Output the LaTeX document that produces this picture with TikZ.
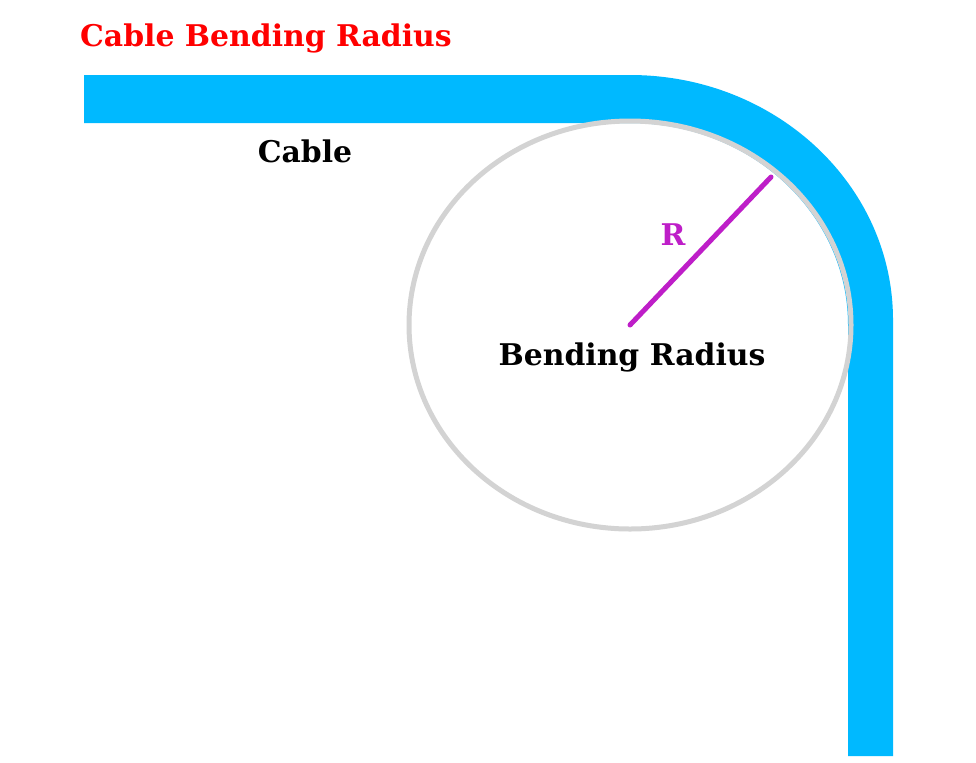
\documentclass[tikz,border=0pt]{standalone}
\usepackage{fontspec}
\setmainfont{DejaVu Serif}
\definecolor{cablecol}{RGB}{0,185,255}
\definecolor{ringcol}{RGB}{211,211,211}
\definecolor{radcol}{RGB}{190,30,200}
\tikzset{
  lbl/.style={font=\bfseries\fontsize{17}{20}\selectfont,inner sep=0pt,anchor=center},
}
\begin{document}
\begin{tikzpicture}[x=0.02cm,y=-0.02cm]
\useasboundingbox (0,0) rectangle (976,762);
\fill[white] (0,0) rectangle (976,762);
\fill[cablecol] (84,75) -- (630,75) arc[start angle=90,end angle=0,x radius=263,y radius=-245] -- (893,756) -- (848,756) -- (848,325)
  arc[start angle=0,end angle=90,x radius=218,y radius=-202] -- (84,123) -- cycle;
\draw[ringcol,line width=0.1cm] (630,325) ellipse[x radius=221,y radius=204];
\coordinate (c) at (630,325);
\coordinate (e) at (771,177);
\draw[radcol,line width=0.1cm,line cap=round] (c) -- (e);
\node[lbl,text=red] (title) at (266,38.5) {Cable Bending Radius};
\node[lbl] (cable) at (305,151.5) {Cable};
\node[lbl,text=radcol] (r) at (673,234.5) {R};
\node[lbl] (bend) at (632,357.5) {Bending Radius};
\end{tikzpicture}
\end{document}
